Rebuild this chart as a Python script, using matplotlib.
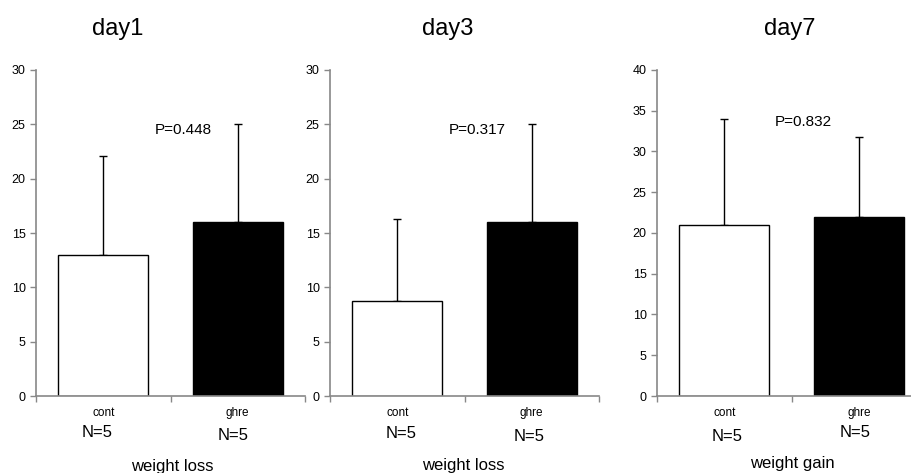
import numpy as np
import matplotlib
matplotlib.use('Agg')
import matplotlib.pyplot as plt

plt.rcParams['font.family'] = ['Liberation Sans', 'DejaVu Sans']

# data
groups = ['cont', 'ghre']
days = ['day1', 'day3', 'day7']
means = [[13.0, 16.0], [8.75, 16.0], [21.0, 22.0]]
upper_err = [[9.1, 9.0], [7.5, 9.0], [13.0, 9.8]]
p_values = ['P=0.448', 'P=0.317', 'P=0.832']
n_labels = [['N=5', 'N=5'], ['N=5', 'N=5'], ['N=5', 'N=5']]
measures = ['weight loss', 'weight loss', 'weight gain']
ymax = [30, 30, 40]

W, H = 912, 473
fig = plt.figure(figsize=(W / 100, H / 100), dpi=100)

# layout in pixels (left, axes width)
lefts = [36, 330, 657]
bottom_px, top_px = 396, 70
p_pos = [(183, 130), (477, 130), (803, 122)]
n_pos = [[(97, 432), (233, 435)], [(401, 434), (529, 436)], [(727, 436), (855, 432)]]
meas_pos = [(172, 466), (463, 465), (792, 463)]
title_pos = [118, 448, 790]

spine_col = '#888888'
for i in range(3):
    ax = fig.add_axes([lefts[i] / W, (H - bottom_px) / H, 269 / W, (bottom_px - top_px) / H])
    x = np.arange(len(groups))
    ax.bar(x, means[i], width=0.67, color=['white', 'black'], edgecolor='black', linewidth=1, zorder=2)
    yerr = [np.zeros(len(groups)), upper_err[i]]
    ax.errorbar(x, means[i], yerr=yerr, fmt='none', ecolor='black', elinewidth=1, capsize=3, capthick=1, zorder=1)
    ax.set_xlim(-0.5, 1.5)
    ax.set_ylim(0, ymax[i])
    ax.set_yticks(np.arange(0, ymax[i] + 1, 5))
    ax.set_xticks([-0.5, 0.5, 1.5])
    ax.set_xticklabels([])
    for s in ['top', 'right']:
        ax.spines[s].set_visible(False)
    for s in ['left', 'bottom']:
        ax.spines[s].set_color(spine_col)
        ax.spines[s].set_linewidth(1.2)
    ax.tick_params(axis='both', colors=spine_col, length=4, width=1, labelsize=9, labelcolor='black')
    ax.patch.set_alpha(0)
    for j, g in enumerate(groups):
        ax.text(j, -1.6 * ymax[i] / 30, g, ha='center', va='center', fontsize=8.5)

    fig.text(title_pos[i] / W, 1 - 29 / H, days[i], ha='center', va='center', fontsize=17)
    fig.text(p_pos[i][0] / W, 1 - p_pos[i][1] / H, p_values[i], ha='center', va='center', fontsize=11)
    for j in range(2):
        fig.text(n_pos[i][j][0] / W, 1 - n_pos[i][j][1] / H, n_labels[i][j], ha='center', va='center', fontsize=12)
    fig.text(meas_pos[i][0] / W, 1 - meas_pos[i][1] / H, measures[i], ha='center', va='center', fontsize=12)

fig.savefig('out.png', dpi=100)
